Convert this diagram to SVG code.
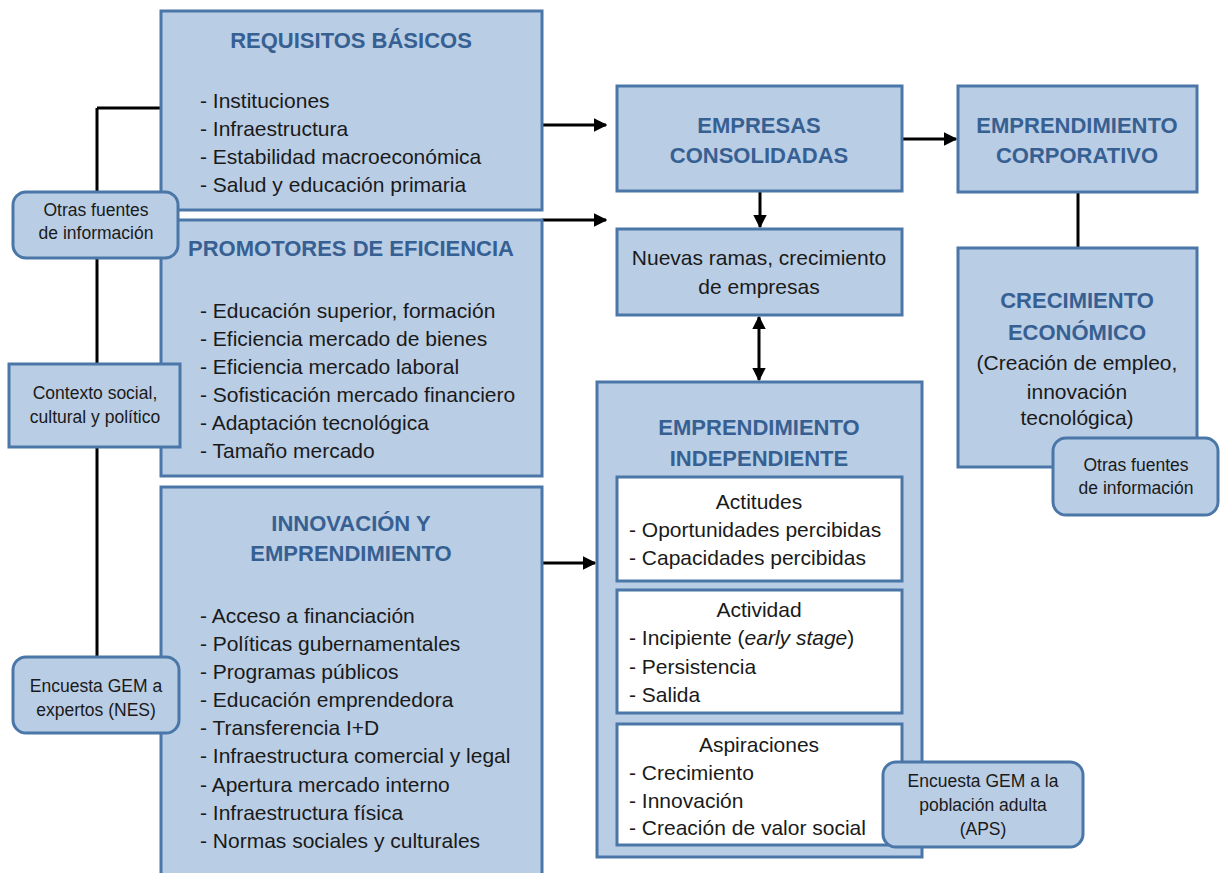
<svg xmlns="http://www.w3.org/2000/svg" width="1220" height="873" viewBox="0 0 1220 873">
<defs>
<style>
.box{fill:#B9CDE5;stroke:#4A76A8;stroke-width:3}
.wbox{fill:#FFFFFF;stroke:#4A76A8;stroke-width:3}
.rbox{fill:#B9CDE5;stroke:#4A76A8;stroke-width:3}
.t{font-family:"Liberation Sans",Arial,sans-serif;font-size:21px;fill:#1a1a1a}
.ts{font-family:"Liberation Sans",Arial,sans-serif;font-size:17.5px;fill:#1a1a1a}
.h{font-family:"Liberation Sans",Arial,sans-serif;font-size:22px;font-weight:bold;fill:#376092}
.c{text-anchor:middle}
.ln{stroke:#000;stroke-width:3;fill:none}
</style>
<marker id="ah" viewBox="0 0 10 10" refX="9" refY="5" markerWidth="4.5" markerHeight="4.5" orient="auto-start-reverse" markerUnits="strokeWidth">
<path d="M0,0 L10,5 L0,10 z" fill="#000"/>
</marker>
</defs>
<rect width="1220" height="873" fill="#fff"/>

<g id="connectors">
<path class="ln" d="M97,108 L162,108"/>
<path class="ln" d="M97,108 L97,657"/>
<path class="ln" d="M542,220 L606,220" marker-end="url(#ah)"/>
<path class="ln" d="M542,125 L606,125" marker-end="url(#ah)"/>
<path class="ln" d="M902,139 L956,139" marker-end="url(#ah)"/>
<path class="ln" d="M760,191 L760,227" marker-end="url(#ah)"/>
<path class="ln" d="M759,317 L759,380" marker-start="url(#ah)" marker-end="url(#ah)"/>
<path class="ln" d="M1078,192 L1078,248"/>
<path class="ln" d="M542,563 L595,563" marker-end="url(#ah)"/>
</g>

<g id="requisitos">
<rect class="box" x="161" y="11" width="381" height="199"/>
<text class="h c" x="351" y="48">REQUISITOS BÁSICOS</text>
<text class="t" x="200" y="108">- Instituciones</text>
<text class="t" x="200" y="136">- Infraestructura</text>
<text class="t" x="200" y="164">- Estabilidad macroeconómica</text>
<text class="t" x="200" y="192">- Salud y educación primaria</text>
</g>

<g id="promotores">
<rect class="box" x="161" y="220" width="381" height="256"/>
<text class="h c" x="351" y="256">PROMOTORES DE EFICIENCIA</text>
<text class="t" x="200" y="318">- Educación superior, formación</text>
<text class="t" x="200" y="346">- Eficiencia mercado de bienes</text>
<text class="t" x="200" y="374">- Eficiencia mercado laboral</text>
<text class="t" x="200" y="402">- Sofisticación mercado financiero</text>
<text class="t" x="200" y="430">- Adaptación tecnológica</text>
<text class="t" x="200" y="458">- Tamaño mercado</text>
</g>

<g id="innovacion">
<rect class="box" x="161" y="487" width="381" height="400"/>
<text class="h c" x="351" y="531">INNOVACIÓN Y</text>
<text class="h c" x="351" y="561">EMPRENDIMIENTO</text>
<text class="t" x="200" y="623">- Acceso a financiación</text>
<text class="t" x="200" y="651">- Políticas gubernamentales</text>
<text class="t" x="200" y="679">- Programas públicos</text>
<text class="t" x="200" y="707">- Educación emprendedora</text>
<text class="t" x="200" y="735">- Transferencia I+D</text>
<text class="t" x="200" y="763">- Infraestructura comercial y legal</text>
<text class="t" x="200" y="792">-  Apertura mercado interno</text>
<text class="t" x="200" y="820">- Infraestructura física</text>
<text class="t" x="200" y="848">- Normas sociales y culturales</text>
</g>

<g id="otras-fuentes-izq">
<rect class="rbox" x="13" y="192" width="165" height="66" rx="13"/>
<text class="ts c" x="96" y="216">Otras fuentes</text>
<text class="ts c" x="96" y="239">de información</text>
</g>

<g id="contexto">
<rect class="box" x="9" y="364" width="171" height="83"/>
<text class="ts c" x="95" y="399">Contexto social,</text>
<text class="ts c" x="95" y="423">cultural y político</text>
</g>

<g id="encuesta-nes">
<rect class="rbox" x="13" y="657" width="166" height="76" rx="13"/>
<text class="ts c" x="96" y="692">Encuesta GEM a</text>
<text class="ts c" x="96" y="716">expertos (NES)</text>
</g>

<g id="empresas">
<rect class="box" x="617" y="86" width="285" height="105"/>
<text class="h c" x="759" y="133">EMPRESAS</text>
<text class="h c" x="759" y="163">CONSOLIDADAS</text>
</g>

<g id="corporativo">
<rect class="box" x="958" y="86" width="239" height="106"/>
<text class="h c" x="1077" y="133">EMPRENDIMIENTO</text>
<text class="h c" x="1077" y="163">CORPORATIVO</text>
</g>

<g id="nuevas-ramas">
<rect class="box" x="617" y="229" width="285" height="86"/>
<text class="t c" x="759" y="265">Nuevas ramas, crecimiento</text>
<text class="t c" x="759" y="294">de empresas</text>
</g>

<g id="crecimiento">
<rect class="box" x="958" y="248" width="239" height="219"/>
<text class="h c" x="1077" y="308">CRECIMIENTO</text>
<text class="h c" x="1077" y="340">ECONÓMICO</text>
<text class="t c" x="1077" y="370">(Creación de empleo,</text>
<text class="t c" x="1077" y="399">innovación</text>
<text class="t c" x="1077" y="425">tecnológica)</text>
</g>

<g id="otras-fuentes-der">
<rect class="rbox" x="1053" y="438" width="165" height="77" rx="13"/>
<text class="ts c" x="1136" y="471">Otras fuentes</text>
<text class="ts c" x="1136" y="494">de información</text>
</g>

<g id="independiente">
<rect class="box" x="597" y="382" width="325" height="475"/>
<text class="h c" x="759" y="435">EMPRENDIMIENTO</text>
<text class="h c" x="759" y="466">INDEPENDIENTE</text>
</g>

<g id="actitudes">
<rect class="wbox" x="617" y="477" width="285" height="104"/>
<text class="t c" x="759" y="509">Actitudes</text>
<text class="t" x="629" y="537">- Oportunidades percibidas</text>
<text class="t" x="629" y="565">- Capacidades percibidas</text>
</g>

<g id="actividad">
<rect class="wbox" x="617" y="590" width="285" height="123"/>
<text class="t c" x="759" y="617">Actividad</text>
<text class="t" x="629" y="645">- Incipiente (<tspan font-style="italic">early stage</tspan>)</text>
<text class="t" x="629" y="674">- Persistencia</text>
<text class="t" x="629" y="702">- Salida</text>
</g>

<g id="aspiraciones">
<rect class="wbox" x="617" y="724" width="285" height="121"/>
<text class="t c" x="759" y="752">Aspiraciones</text>
<text class="t" x="629" y="780">- Crecimiento</text>
<text class="t" x="629" y="808">- Innovación</text>
<text class="t" x="629" y="835">- Creación de valor social</text>
</g>

<g id="encuesta-aps">
<rect class="rbox" x="883" y="762" width="200" height="85" rx="13"/>
<text class="ts c" x="983" y="787">Encuesta GEM a la</text>
<text class="ts c" x="983" y="811">población adulta</text>
<text class="ts c" x="983" y="835">(APS)</text>
</g>
</svg>
